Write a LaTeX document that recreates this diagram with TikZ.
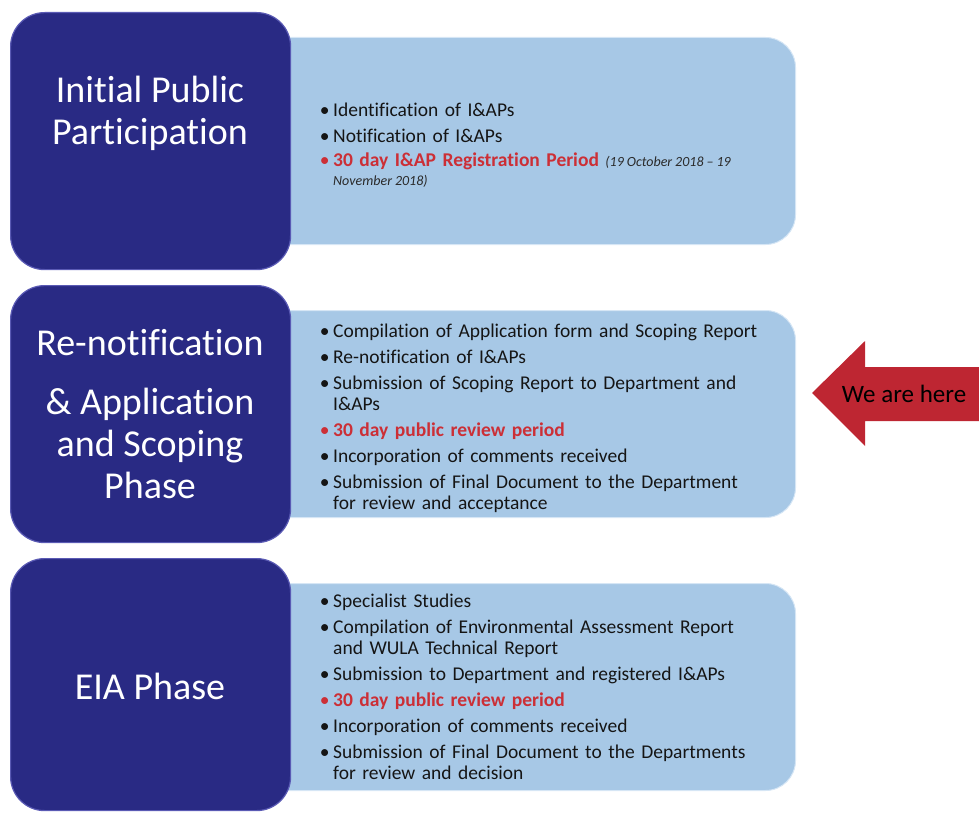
\documentclass[tikz,border=0pt]{standalone}
\usepackage{fontspec}
\setmainfont{Carlito}[Ligatures={NoCommon}]
\definecolor{darkb}{HTML}{292A84}
\definecolor{darkedge}{HTML}{5A5AB4}
\definecolor{lightb}{HTML}{A7C8E6}
\definecolor{lightedge}{HTML}{D6E6F5}
\definecolor{redtxt}{HTML}{CC2F36}
\definecolor{arrowred}{HTML}{BE2632}
\definecolor{txt}{HTML}{151515}
\definecolor{datetxt}{HTML}{2A2A2A}
\newcommand\bitem[2][txt]{\par\noindent\llap{\textcolor{#1}{\textbullet}\hspace{3.5pt}}#2}
\tikzset{
  darkbox/.style={fill=darkb, draw=darkedge, line width=1.2pt, rounded corners=34pt,
    minimum width=280pt, inner sep=0pt, anchor=north west},
  lightbox/.style={fill=lightb, draw=lightedge, line width=1pt, rounded corners=30pt,
    minimum width=595pt, minimum height=207pt, inner sep=0pt, anchor=north west},
  titletext/.style={text=white, font=\fontsize{38}{42}\selectfont, align=center, inner sep=0pt},
  listtext/.style={anchor=west, inner sep=0pt, text width=470pt, text=txt,
    font=\fontsize{19.5}{21}\selectfont,
    execute at begin node={\raggedright\setlength{\parskip}{5pt}}},
}
\begin{document}
\begin{tikzpicture}[x=1pt,y=-1pt]
\useasboundingbox (0,0) rectangle (979,813);
% light boxes
\node[lightbox] (l1) at (200,37) {};
\node[lightbox] (l2) at (200,310) {};
\node[lightbox] (l3) at (200,583) {};
% dark boxes
\node[darkbox, minimum height=257pt] (d1) at (10,12) {};
\node[darkbox, minimum height=257pt] (d2) at (10,285) {};
\node[darkbox, minimum height=252pt] (d3) at (10,558) {};
% titles
\node[titletext] (t1) at (150,113) {Initial Public\\Participation};
\node[titletext] (t2) at (150,414) {Re-notification\\[17pt]\& Application\\and Scoping\\Phase};
\node[titletext] (t3) at (150,686) {EIA Phase};
% lists
\node[listtext] (x1) at (333,139) {%
\bitem{Identification of I\&APs}
\bitem{Notification of I\&APs}
\bitem[redtxt]{\textcolor{redtxt}{\textbf{30 day I\&AP Registration Period}} {\fontsize{14}{19}\selectfont\itshape\spaceskip=3pt\color{datetxt}\mbox{(19 October 2018 -- 19}\\\mbox{November 2018)}\par}}};
\node[listtext] (x2) at (333,412) {%
\bitem{Compilation of Application form and Scoping Report}
\bitem{Re-notification of I\&APs}
\bitem{Submission of Scoping Report to Department and\\I\&APs}
\bitem[redtxt]{\textcolor{redtxt}{\textbf{30 day public review period}}}
\bitem{Incorporation of comments received}
\bitem{Submission of Final Document to the Department\\for review and acceptance}};
\node[listtext] (x3) at (333,681) {%
\bitem{Specialist Studies}
\bitem{Compilation of Environmental Assessment Report\\and WULA Technical Report}
\bitem{Submission to Department and registered I\&APs}
\bitem[redtxt]{\textcolor{redtxt}{\textbf{30 day public review period}}}
\bitem{Incorporation of comments received}
\bitem{Submission of Final Document to the Departments\\for review and decision}};
% arrow
\fill[arrowred] (812,393) -- (865,341) -- (865,367) -- (990,367) -- (990,421) -- (865,421) -- (865,446) -- cycle;
\node[text=black, font=\fontsize{25}{28}\selectfont, inner sep=0pt] (here) at (904,394) {We are here};
\end{tikzpicture}
\end{document}
